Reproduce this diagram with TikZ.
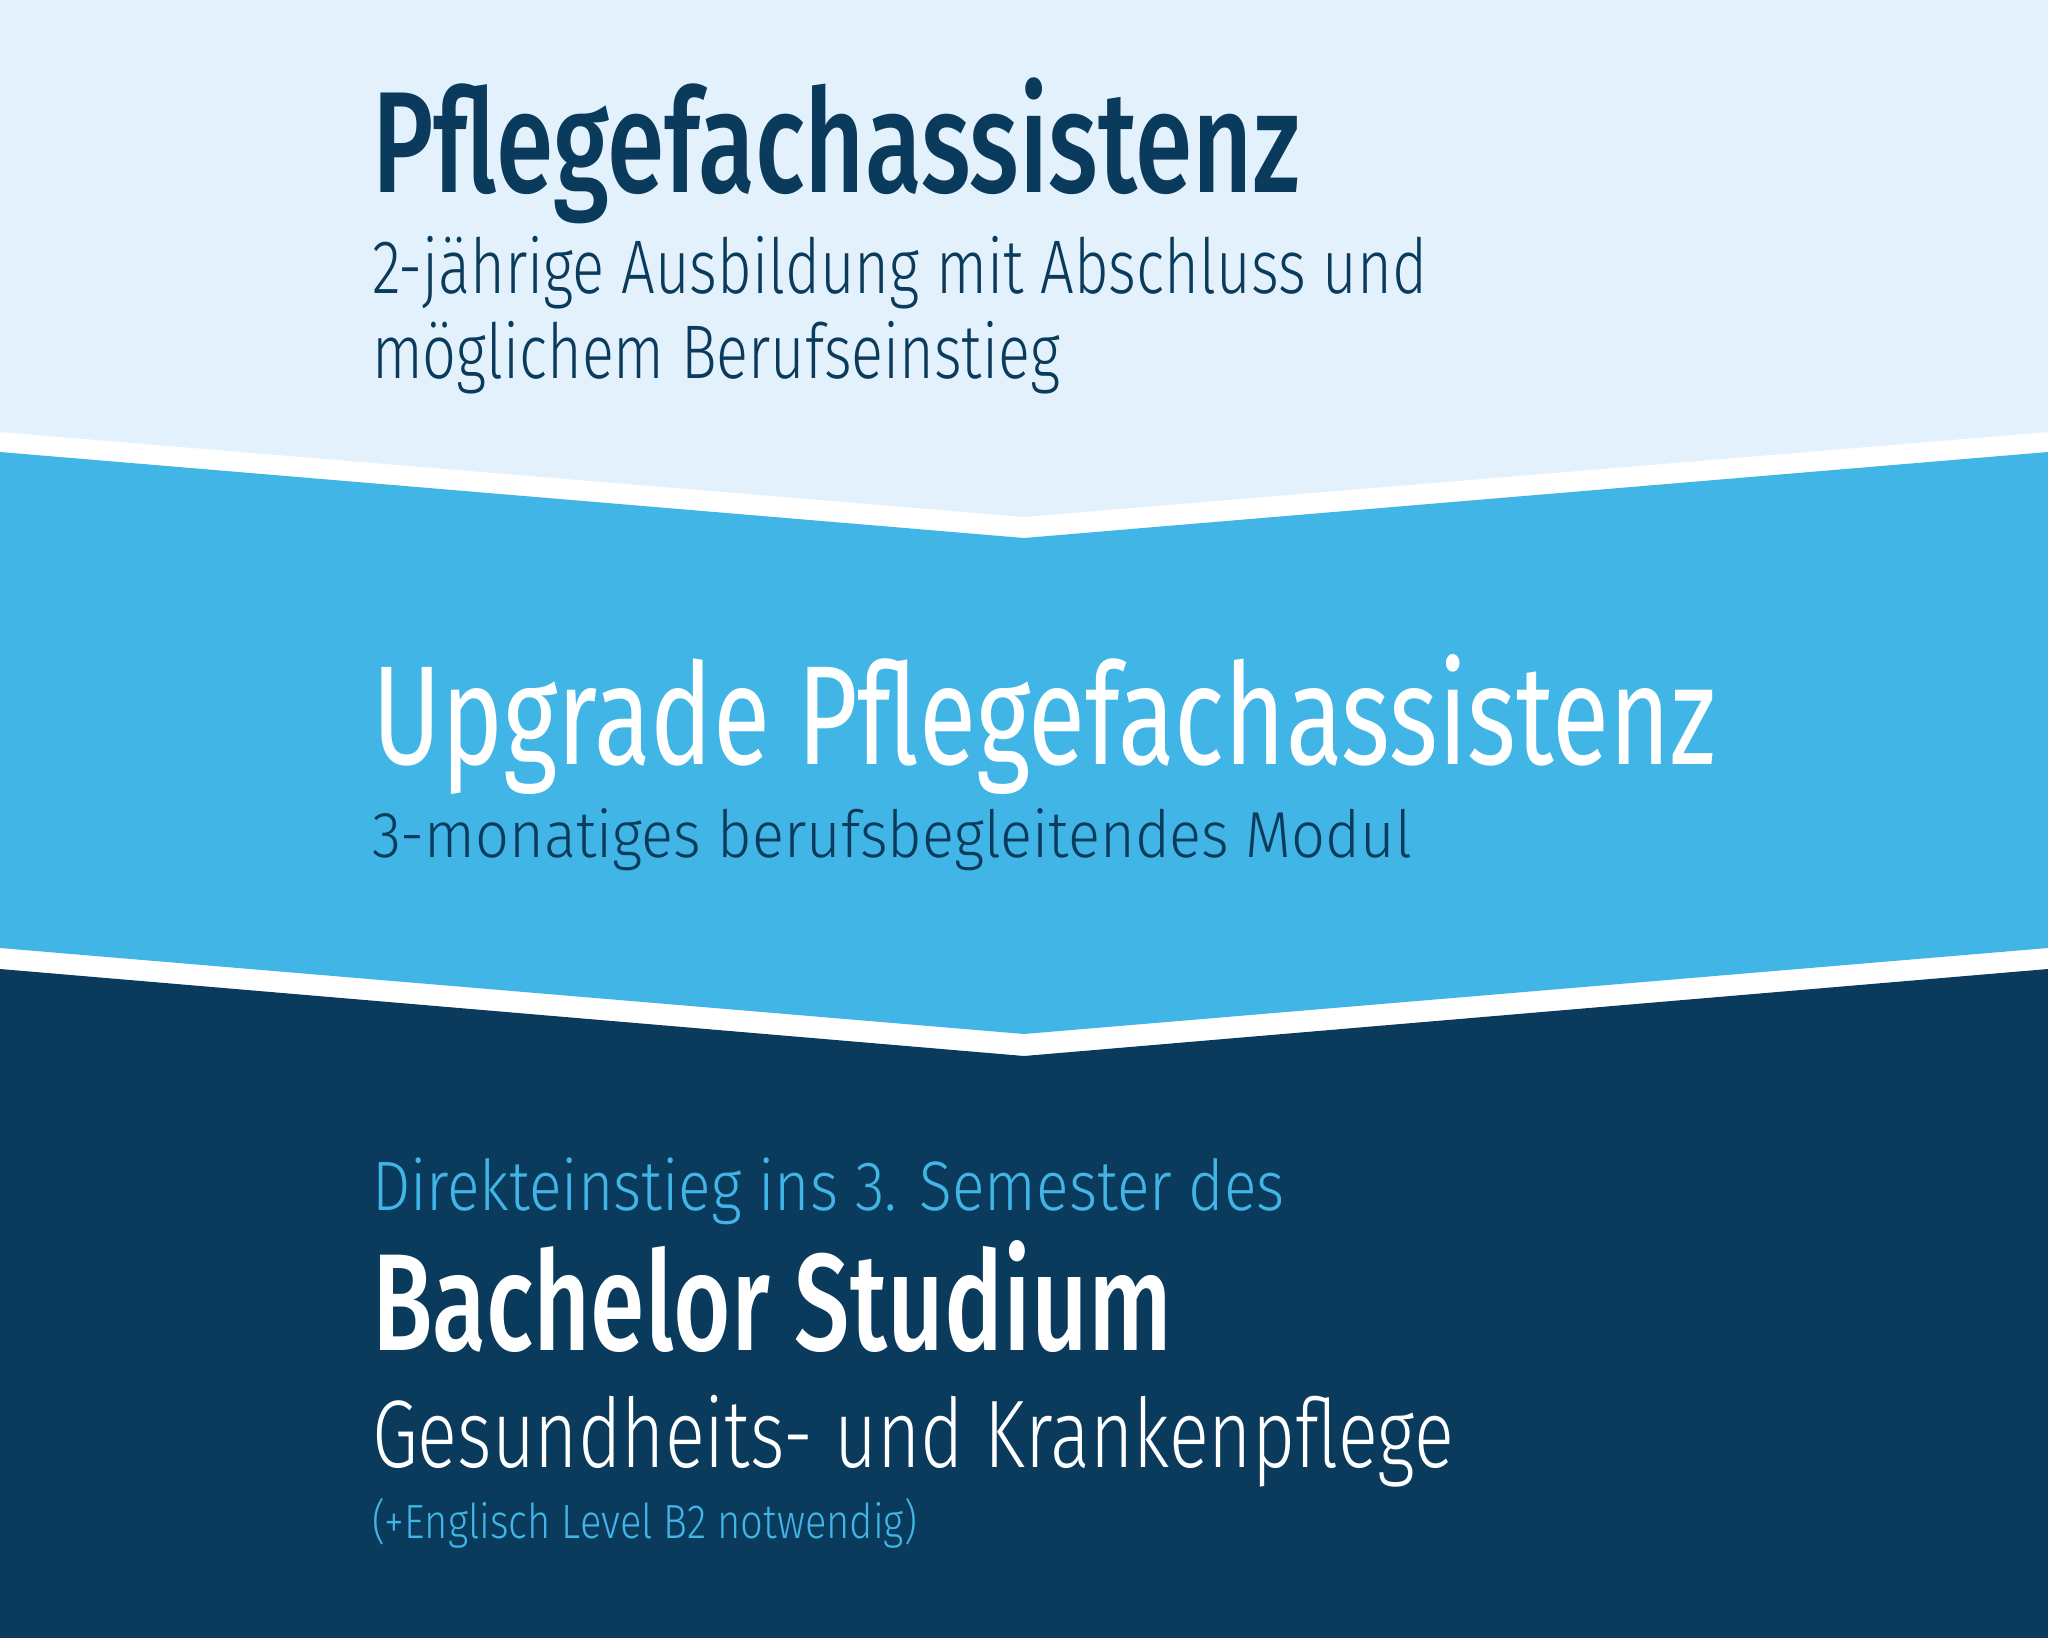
\documentclass[tikz,border=0pt]{standalone}
\usepackage{fontspec}
\setmainfont{Fira Sans}
\newfontfamily\fsl{Fira Sans Light}
\newfontfamily\fsm{Fira Sans Medium}
\definecolor{lightbg}{HTML}{E2F1FC}
\definecolor{midblue}{HTML}{41B5E5}
\definecolor{navy}{HTML}{0A3A5C}
\newsavebox\fitbox
\newcommand\fitline[2]{\sbox\fitbox{#2}\pgfmathsetmacro\fitr{#1/\the\wd\fitbox}\scalebox{\fitr}[1]{\usebox\fitbox}}
\begin{document}
\begin{tikzpicture}[x=1pt,y=-1pt,
  txt/.style={anchor=base west,inner sep=0pt,outer sep=0pt}]
\useasboundingbox (0,0) rectangle (2048,1638);
\fill[white] (0,0) rectangle (2048,1638);
\fill[lightbg] (0,0) -- (2048,0) -- (2048,432) -- (1024,517) -- (0,432) -- cycle;
\fill[midblue] (0,452) -- (1024,538) -- (2048,452) -- (2048,948) -- (1024,1034) -- (0,948) -- cycle;
\fill[navy] (0,969) -- (1024,1056) -- (2048,969) -- (2048,1638) -- (0,1638) -- cycle;

\node[txt,text=navy,font=\fsm\fontsize{144}{150}\selectfont] (t1) at (372,192) {\fitline{928}{Pflegefachassistenz}};
\node[txt,text=navy,font=\fsl\fontsize{76}{80}\selectfont] (s1a) at (372,293) {\fitline{1055}{2-jährige Ausbildung mit Abschluss und}};
\node[txt,text=navy,font=\fsl\fontsize{76}{80}\selectfont] (s1b) at (372,378) {\fitline{688}{möglichem Berufseinstieg}};

\node[txt,text=white,font=\fontsize{141}{150}\selectfont] (t2) at (372,764) {\fitline{1344}{Upgrade Pflegefachassistenz}};
\node[txt,text=navy,font=\fsl\fontsize{65}{70}\selectfont] (s2) at (372,857) {\fitline{1040}{3-monatiges berufsbegleitendes Modul}};

\node[txt,text=midblue,font=\fsl\fontsize{70}{75}\selectfont] (p3) at (372,1210) {\fitline{913}{Direkteinstieg ins 3. Semester des}};
\node[txt,text=white,font=\fsm\fontsize{138}{145}\selectfont] (t3) at (372,1350) {\fitline{800}{Bachelor Studium}};
\node[txt,text=white,font=\fsl\fontsize{96}{100}\selectfont] (s3) at (372,1467) {\fitline{1082}{Gesundheits- und Krankenpflege}};
\node[txt,text=midblue,font=\fsl\fontsize{48}{52}\selectfont] (n3) at (372,1538) {\fitline{545}{(+Englisch Level B2 notwendig)}};
\end{tikzpicture}
\end{document}
